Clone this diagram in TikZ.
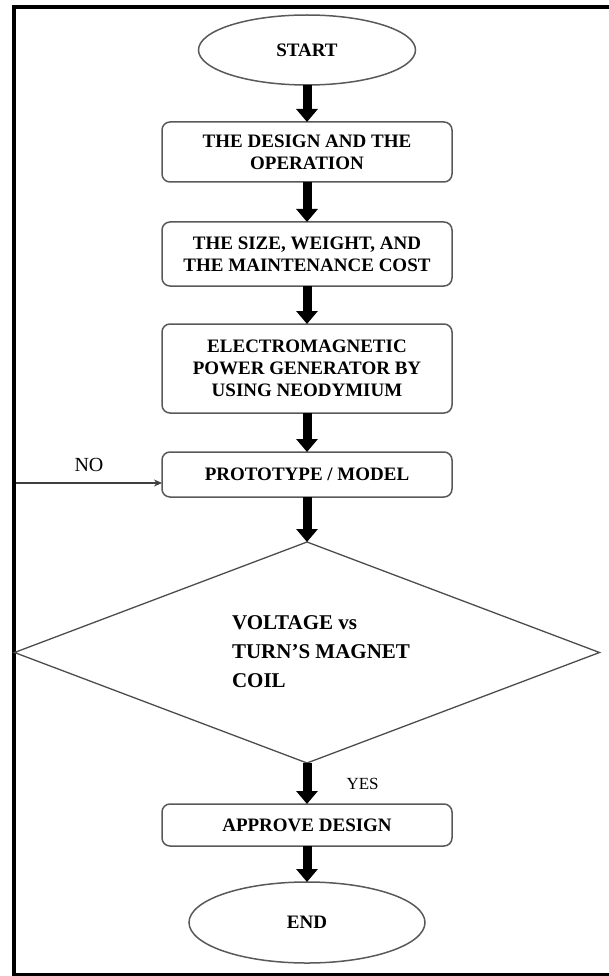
\documentclass[tikz,border=0pt]{standalone}
\usepackage{fontspec}
\setmainfont{Liberation Serif}
\usepackage{tikz}
\usetikzlibrary{shapes.geometric, arrows.meta, positioning}
\tikzstyle{terminal} = [ellipse, draw=black!65, line width=1.5pt, inner sep=0pt, outer sep=0pt, font=\fontsize{19}{22}\selectfont\bfseries]
\tikzstyle{process} = [rectangle, rounded corners=8pt, draw=black!65, line width=1.5pt, minimum width=290pt, inner sep=0pt, outer sep=0pt, align=center, font=\fontsize{19}{22}\selectfont\bfseries]
\tikzstyle{decision} = [diamond, aspect=2.65, draw=black!70, line width=1.3pt, minimum width=585pt, minimum height=221pt, inner sep=0pt, outer sep=0pt, font=\fontsize{21}{29}\selectfont\bfseries]
\tikzstyle{arrow} = [line width=9pt, -{Triangle[length=13pt,width=21pt]}]
\tikzstyle{thinarrow} = [line width=1.2pt, draw=black!75, -{Stealth[length=8pt,width=7pt]}]

\begin{document}
\begin{tikzpicture}[x=1pt, y=-1pt]
\useasboundingbox (0,0) rectangle (608,976);
\draw [line width=4.5pt] (620,7) -- (14,7) -- (14,975) -- (620,975);
\node [terminal, minimum width=217pt, minimum height=70pt] (start) at (307,50) {START};
\node [process, minimum height=60pt] (design) [below=37pt of start] {THE DESIGN AND THE\\OPERATION};
\node [process, minimum height=64pt] (size) [below=40pt of design] {THE SIZE, WEIGHT, AND\\THE MAINTENANCE COST};
\node [process, minimum height=89pt] (gen) [below=38pt of size] {ELECTROMAGNETIC\\POWER GENERATOR BY\\USING NEODYMIUM};
\node [process, minimum height=45pt] (proto) [below=39pt of gen] {PROTOTYPE / MODEL};
\node [decision] (check) [below=45pt of proto] {\begin{tabular}{@{\hspace{28pt}}l@{}}VOLTAGE vs\\TURN'S MAGNET\\COIL\end{tabular}};
\node [process, minimum height=42pt] (approve) [below=41pt of check] {APPROVE DESIGN};
\node [terminal, minimum width=236pt, minimum height=81pt] (stop) [below=36pt of approve] {END};
\coordinate (entry) at (16,483);
\draw [arrow] (start) -- (design);
\draw [arrow] (design) -- (size);
\draw [arrow] (size) -- (gen);
\draw [arrow] (gen) -- (proto);
\draw [arrow] (proto) -- (check);
\draw [arrow] (check) -- node [right=35pt, inner sep=0pt, font=\fontsize{17}{20}\selectfont] (yes) {YES} (approve);
\draw [arrow] (approve) -- (stop);
\draw [thinarrow] (entry) -- node [above=11pt, inner sep=0pt, font=\fontsize{20}{22}\selectfont] (no) {NO} (entry -| proto.west);
\end{tikzpicture}
\end{document}
